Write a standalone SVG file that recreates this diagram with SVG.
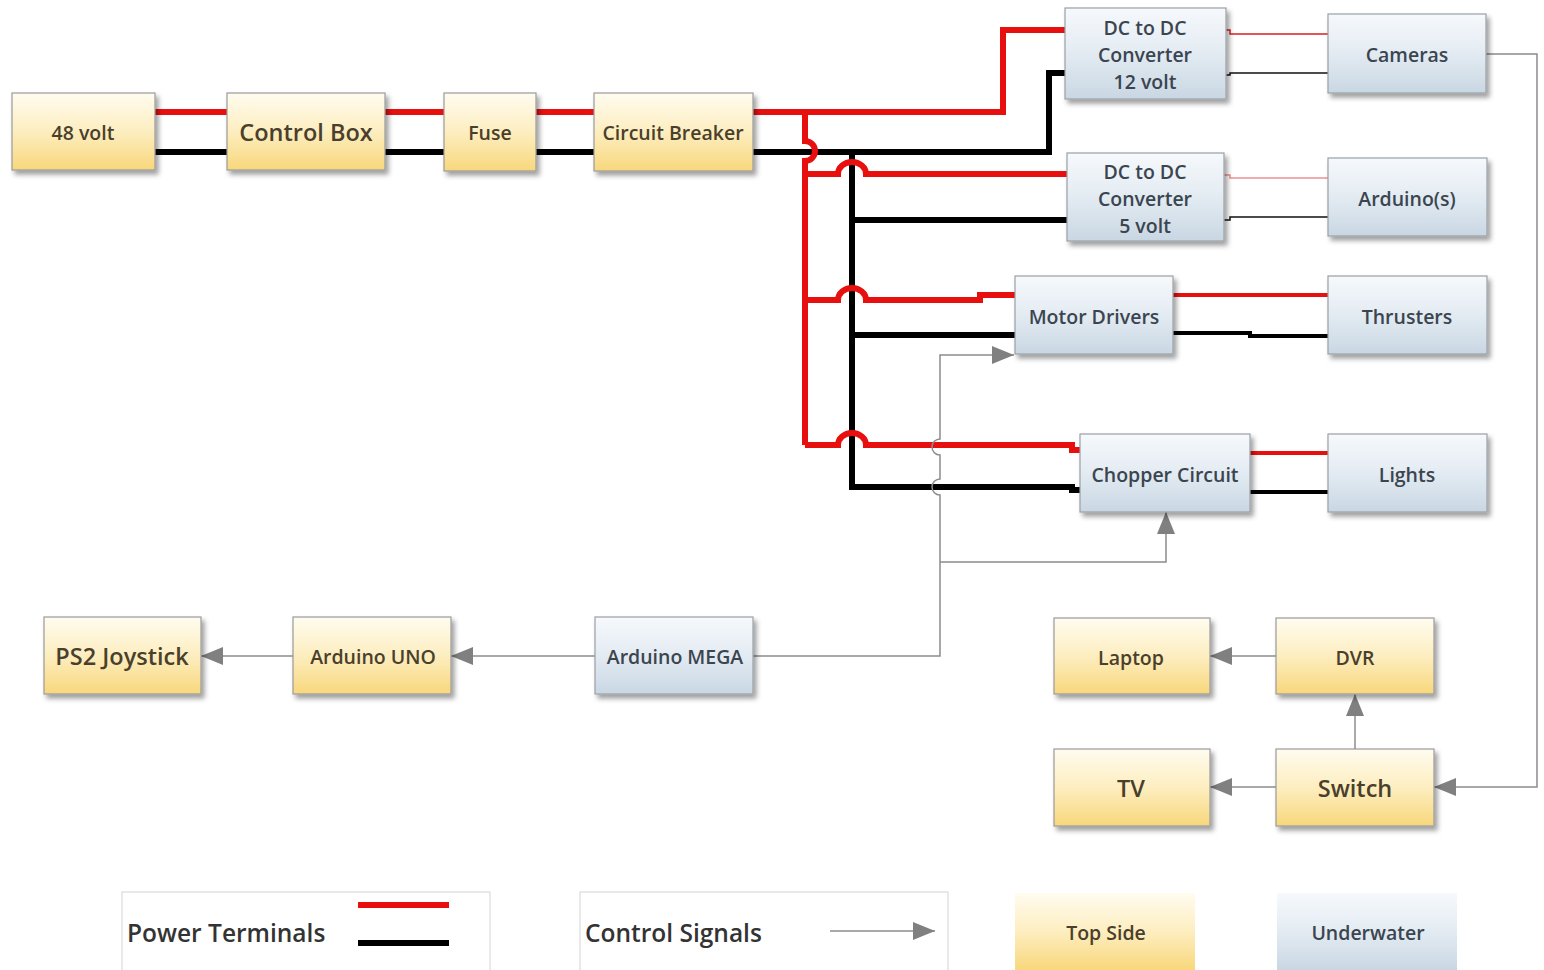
<svg xmlns="http://www.w3.org/2000/svg" width="1544" height="970" viewBox="0 0 1544 970">
<defs>
<linearGradient id="gTop" x1="0" y1="0" x2="0" y2="1">
<stop offset="0" stop-color="#fffcf0"/>
<stop offset="0.5" stop-color="#fdeec0"/>
<stop offset="1" stop-color="#f8d77c"/>
</linearGradient>
<linearGradient id="gUnder" x1="0" y1="0" x2="0" y2="1">
<stop offset="0" stop-color="#f6f9fc"/>
<stop offset="0.5" stop-color="#e3ebf2"/>
<stop offset="1" stop-color="#c9d7e3"/>
</linearGradient>
<filter id="sh" x="-10%" y="-10%" width="125%" height="130%">
<feDropShadow dx="3" dy="4" stdDeviation="2.5" flood-color="#000" flood-opacity="0.38"/>
</filter>
<marker id="arr" markerUnits="userSpaceOnUse" markerWidth="22" markerHeight="18" viewBox="0 0 22 18" refX="22" refY="9" orient="auto">
<path d="M0,0 L22,9 L0,18 z" fill="#808080"/>
</marker>
<style>
.top{fill:url(#gTop);stroke:#9a9a9a;stroke-width:1.2;filter:url(#sh)}
.und{fill:url(#gUnder);stroke:#9aa0a6;stroke-width:1.2;filter:url(#sh)}
.t{font-family:"Open Sans","Liberation Sans",sans-serif;font-weight:600;font-size:19.5px;text-anchor:middle;dominant-baseline:central}
.ty{fill:#4a3f2c}
.tu{fill:#3b4550}
.big{font-size:23.5px}
.red{fill:none;stroke:#e8100f;stroke-width:6}
.blk{fill:none;stroke:#000;stroke-width:6}
.redm{fill:none;stroke:#e8100f;stroke-width:4}
.blkm{fill:none;stroke:#000;stroke-width:4}
.redt{fill:none;stroke:#d82020;stroke-width:1.5}
.redl{fill:none;stroke:#f09090;stroke-width:1.5}
.blkt{fill:none;stroke:#111;stroke-width:1.5}
.sig{fill:none;stroke:#8c8c8c;stroke-width:1.5}
.sigA{fill:none;stroke:#8c8c8c;stroke-width:1.5;marker-end:url(#arr)}
.leg{fill:#fff;stroke:#d4d4d4;stroke-width:1}
.lt{font-family:"Open Sans","Liberation Sans",sans-serif;font-weight:600;font-size:24.5px;fill:#333;dominant-baseline:central}
</style>
</defs>
<rect width="1544" height="970" fill="#fff"/>

<g id="connectors">
<!-- power main chain -->
<path class="red" d="M155 112 H227 M385 112 H444 M536 112 H594"/>
<path class="blk" d="M155 152 H227 M385 152 H444 M536 152 H594"/>
<path class="red" d="M753 112 H1003 V30 H1065"/>
<path class="blk" d="M753 152 H1049 V73 H1065"/>
<!-- black trunk -->
<path class="blk" d="M852 152 V487 H1072 V490 H1080"/>
<path class="blk" d="M852 220 H1067"/>
<path class="blk" d="M852 335 H1015"/>
<!-- red trunk with hop over black -->
<path class="red" d="M805 112 V141 A10 10 0 0 1 805 161 V445"/>
<path class="red" d="M805 174 H838 A14 12 0 0 1 866 174 H1067"/>
<path class="red" d="M805 300 H838 A14 12 0 0 1 866 300 H980 V295 H1015"/>
<path class="red" d="M805 445 H838 A14 12 0 0 1 866 445 H1072 V450 H1080"/>
<!-- outputs -->
<path class="redt" d="M1226 30 H1230 V34 H1328"/>
<path class="blkt" d="M1226 75 H1230 V73 H1328"/>
<path class="redl" d="M1224 175 H1230 V178 H1328"/>
<path class="blkt" d="M1224 220 H1230 V217 H1328"/>
<path class="redm" d="M1173 295 H1328"/>
<path class="blkm" d="M1173 333 H1250 V336 H1328"/>
<path class="redm" d="M1250 453 H1328"/>
<path class="blkm" d="M1250 492 H1328"/>
<!-- control signals -->
<path class="sigA" d="M753 656 H940 V495 A8 8 0 0 1 940 479 V455 A8 8 0 0 1 940 439 V355 H1014"/>
<path class="sigA" d="M940 562 H1166 V512"/>
<path class="sigA" d="M595 656 H451"/>
<path class="sigA" d="M293 656 H201"/>
<path class="sigA" d="M1486 54 H1537 V787 H1434"/>
<path class="sigA" d="M1276 787 H1210"/>
<path class="sigA" d="M1276 656 H1210"/>
<path class="sigA" d="M1355 749 V694"/>
</g>

<g id="n48"><rect class="top" x="12" y="93" width="143" height="77"/><text class="t ty" x="83" y="132">48 volt</text></g>
<g id="ncontrolbox"><rect class="top" x="227" y="93" width="158" height="77"/><text class="t ty big" x="306" y="132">Control Box</text></g>
<g id="nfuse"><rect class="top" x="444" y="93" width="92" height="78"/><text class="t ty" x="490" y="132">Fuse</text></g>
<g id="ncb"><rect class="top" x="594" y="93" width="159" height="78"/><text class="t ty" x="673" y="132">Circuit Breaker</text></g>

<g id="ndc12"><rect class="und" x="1065" y="8" width="161" height="91"/>
<text class="t tu" x="1145" y="27">DC to DC</text><text class="t tu" x="1145" y="54">Converter</text><text class="t tu" x="1145" y="81">12 volt</text></g>
<g id="ncameras"><rect class="und" x="1328" y="14" width="158" height="79"/><text class="t tu" x="1407" y="54">Cameras</text></g>
<g id="ndc5"><rect class="und" x="1067" y="153" width="157" height="88"/>
<text class="t tu" x="1145" y="171">DC to DC</text><text class="t tu" x="1145" y="198">Converter</text><text class="t tu" x="1145" y="225">5 volt</text></g>
<g id="narduinos"><rect class="und" x="1328" y="158" width="159" height="78"/><text class="t tu" x="1407" y="198">Arduino(s)</text></g>
<g id="nmotor"><rect class="und" x="1015" y="276" width="158" height="78"/><text class="t tu" x="1094" y="316">Motor Drivers</text></g>
<g id="nthrusters"><rect class="und" x="1328" y="276" width="159" height="78"/><text class="t tu" x="1407" y="316">Thrusters</text></g>
<g id="nchopper"><rect class="und" x="1080" y="434" width="170" height="78"/><text class="t tu" x="1165" y="474">Chopper Circuit</text></g>
<g id="nlights"><rect class="und" x="1328" y="434" width="159" height="78"/><text class="t tu" x="1407" y="474">Lights</text></g>

<g id="nps2"><rect class="top" x="44" y="617" width="157" height="77"/><text class="t ty big" x="122" y="656">PS2 Joystick</text></g>
<g id="nuno"><rect class="top" x="293" y="617" width="158" height="77"/><text class="t ty" x="373" y="656">Arduino UNO</text></g>
<g id="nmega"><rect class="und" x="595" y="617" width="158" height="77"/><text class="t tu" x="675" y="656">Arduino MEGA</text></g>

<g id="nlaptop"><rect class="top" x="1054" y="618" width="156" height="76"/><text class="t ty" x="1131" y="657">Laptop</text></g>
<g id="ndvr"><rect class="top" x="1276" y="618" width="158" height="76"/><text class="t ty" x="1355" y="657">DVR</text></g>
<g id="ntv"><rect class="top" x="1054" y="749" width="156" height="77"/><text class="t ty big" x="1131" y="788">TV</text></g>
<g id="nswitch"><rect class="top" x="1276" y="749" width="158" height="77"/><text class="t ty big" x="1355" y="788">Switch</text></g>

<g id="legend-power"><rect class="leg" x="122" y="892" width="368" height="80"/>
<text class="lt" x="127" y="932">Power Terminals</text>
<line x1="358" y1="905" x2="449" y2="905" stroke="#e8100f" stroke-width="6"/>
<line x1="358" y1="943" x2="449" y2="943" stroke="#000" stroke-width="6"/></g>
<g id="legend-control"><rect class="leg" x="580" y="892" width="368" height="80"/>
<text class="lt" x="585" y="932">Control Signals</text>
<line x1="830" y1="931" x2="935" y2="931" class="sigA"/></g>
<g id="legend-top"><rect x="1015" y="893" width="180" height="77" fill="url(#gTop)"/><text class="t ty" x="1106" y="932">Top Side</text></g>
<g id="legend-under"><rect x="1277" y="893" width="180" height="77" fill="url(#gUnder)"/><text class="t tu" x="1368" y="932">Underwater</text></g>
</svg>
